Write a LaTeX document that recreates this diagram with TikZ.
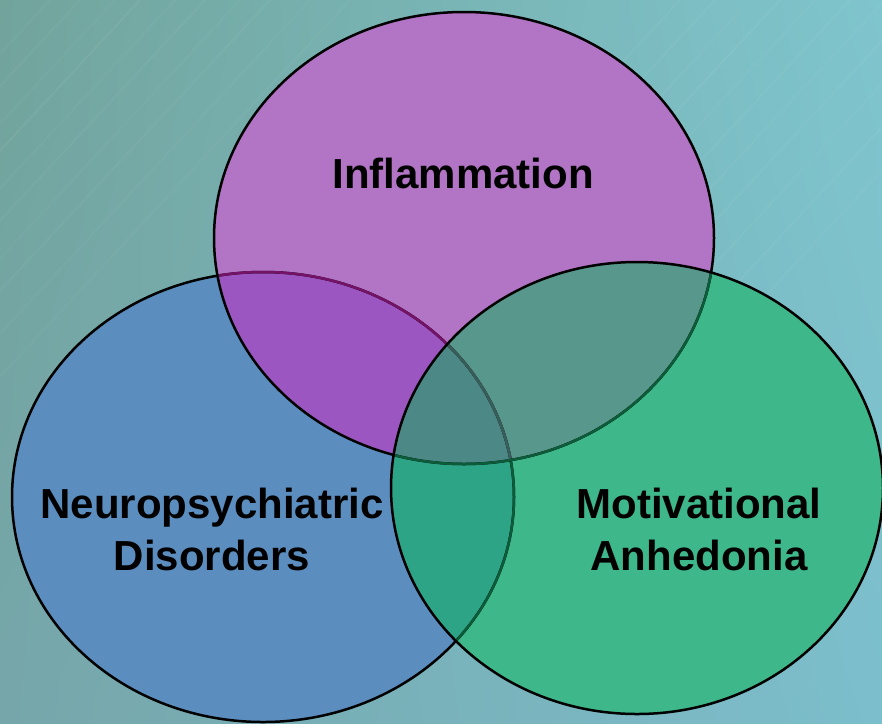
\documentclass[tikz,border=0pt]{standalone}
\usepackage{fontspec}
\setmainfont{Liberation Sans}
\usetikzlibrary{shadings}
\begin{document}
\begin{tikzpicture}[x=1pt,y=-1pt,
  % the three sets
  setL/.style={insert path={(263,497) ellipse [x radius=251pt, y radius=225pt]}},
  setT/.style={insert path={(464,238) ellipse [x radius=250pt, y radius=226pt]}},
  setR/.style={insert path={(637,488) ellipse [x radius=246pt, y radius=226pt]}},
  rim/.style={line width=2.5pt},
  streak/.style={white, line width=2pt},
  label/.style={font=\bfseries\fontsize{42}{52}\selectfont, align=center, inner sep=0pt, text=black}]
\definecolor{bgTL}{RGB}{114,164,156}
\definecolor{bgTR}{RGB}{127,197,205}
\definecolor{bgBL}{RGB}{118,166,170}
\definecolor{bgBR}{RGB}{124,190,204}
\definecolor{blueA}{RGB}{91,141,191}
\definecolor{purpA}{RGB}{178,116,196}
\definecolor{greenA}{RGB}{62,183,138}
\definecolor{purpBlue}{RGB}{156,86,194}
\definecolor{purpGreen}{RGB}{88,151,139}
\definecolor{blueGreen}{RGB}{46,164,135}
\definecolor{allThree}{RGB}{76,136,134}
\definecolor{rimPurp}{RGB}{118,18,104}
\definecolor{rimGreen}{RGB}{12,92,58}
\definecolor{rimGrey}{RGB}{56,94,90}

\useasboundingbox (0,0) rectangle (882,723);

% background with faint diagonal streaks
\shade[upper left=bgTL, upper right=bgTR, lower left=bgBL, lower right=bgBR]
  (0,0) rectangle (882,723);
\begin{scope}
  \clip (0,0) rectangle (882,723);
  \foreach \s/\o in {50/0.03,80/0.04,115/0.03,140/0.05,175/0.03,205/0.04,240/0.03,
                     270/0.04,310/0.03,350/0.03,
                     680/0.03,715/0.04,750/0.03,780/0.05,815/0.03,850/0.04,
                     885/0.03,920/0.04,960/0.03,1000/0.04,1040/0.03}
    \draw[streak, opacity=\o] (\s,0) -- (\s-520,560);
\end{scope}

% single-set fills
\fill[blueA, setL];
\fill[purpA, setT];
\fill[greenA, setR];

% pairwise overlaps
\begin{scope}
  \clip[setL]; \fill[purpBlue, setT];
\end{scope}
\begin{scope}
  \clip[setT]; \fill[purpGreen, setR];
\end{scope}
\begin{scope}
  \clip[setL]; \fill[blueGreen, setR];
\end{scope}
% centre region
\begin{scope}
  \clip[setL]; \clip[setT]; \fill[allThree, setR];
\end{scope}

% outline of the left set, tinted where other sets lie over it
\draw[rim, black, setL];
\begin{scope}
  \clip[setT]; \draw[rim, rimPurp, setL];
\end{scope}
\begin{scope}
  \clip[setR]; \draw[rim, rimGreen, setL];
\end{scope}
\begin{scope}
  \clip[setT]; \clip[setR]; \draw[rim, rimGrey, setL];
\end{scope}

% outline of the top set
\draw[rim, black, setT];
\begin{scope}
  \clip[setR]; \draw[rim, rimGreen, setT];
\end{scope}

% outline of the right set
\draw[rim, black, setR];

% labels
\node[label, anchor=base] (infl) at (463,188) {Inflammation};
\node[label] (neuro) at (212,529) {Neuropsychiatric\\Disorders};
\node[label] (motiv) at (699,529) {Motivational\\Anhedonia};
\end{tikzpicture}
\end{document}
